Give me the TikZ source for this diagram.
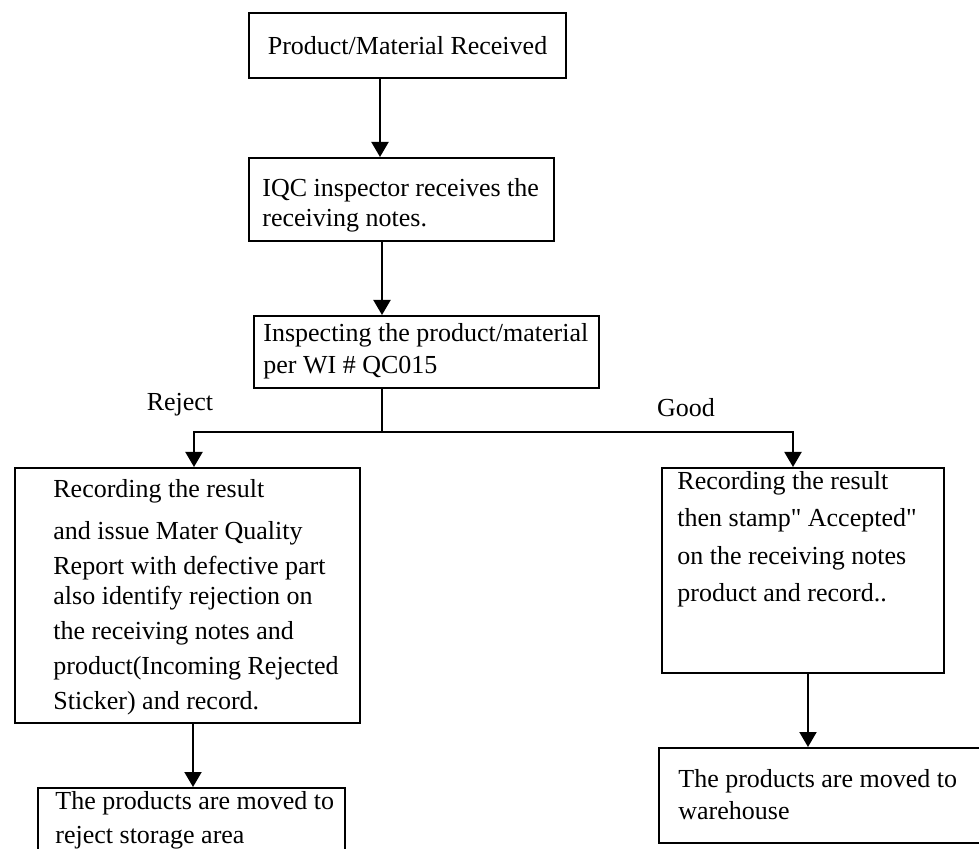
\documentclass[tikz,border=0pt]{standalone}
\usepackage{fontspec}
\setmainfont{Liberation Serif}
\usetikzlibrary{arrows.meta,positioning}

\begin{document}
\begin{tikzpicture}[x=0.5pt, y=-0.5pt,
  stage/.style={draw, line width=1pt, rectangle, anchor=north west, inner sep=0pt},
  words/.style={anchor=north west, inner sep=0pt, align=left, font=\fontsize{13}{#1}\selectfont},
  words/.default=17.5,
  tag/.style={inner sep=0pt, font=\fontsize{13}{15}\selectfont},
  flow/.style={line width=1pt, -{Triangle[width=8.5pt,length=7.5pt]}}]
\useasboundingbox (0,0) rectangle (979,849);
\clip (0,0) rectangle (979,849);

\node[stage, minimum width=158.5pt, minimum height=32.5pt, font=\fontsize{13}{15}\selectfont] (recv) at (248,12) {Product/Material Received};

\node[stage, minimum width=152.5pt, minimum height=41.5pt] (iqc) at (248,157) {};
\node[words=15] (iqctext) at (262,178) {IQC inspector receives the\\receiving notes.};

\node[stage, minimum width=172.5pt, minimum height=36pt] (insp) at (253,315) {};
\node[words=16] (insptext) at (263,323) {Inspecting the product/material\\per WI \# QC015};

\node[tag] (rejlbl) at (180,405) {Reject};
\node[tag] (goodlbl) at (686,408) {Good};

\node[stage, minimum width=172.5pt, minimum height=127.5pt] (rejrec) at (14,467) {};
\node[words=17.5] (rejtext) at (53,479) {Recording the result\\[3.5pt]and issue Mater Quality\\Report with defective part\\[-2.5pt]also identify rejection on\\the receiving notes and\\product(Incoming Rejected\\Sticker) and record.};

\node[stage, minimum width=141pt, minimum height=102.5pt] (goodrec) at (661,467) {};
\node[words=18.75] (goodtext) at (677,471) {Recording the result\\then stamp\textquotedbl{} Accepted\textquotedbl\\on the receiving notes\\product and record..};

\node[stage, minimum width=153.5pt, minimum height=40pt] (rejstore) at (37,787) {};
\node[words=17] (rejstoretext) at (55,791) {The products are moved to\\reject storage area};

\node[stage, minimum width=165pt, minimum height=47.5pt] (wh) at (658,747) {};
\node[words=16] (whtext) at (678,769) {The products are moved to\\warehouse};

\coordinate (fork) at (382,432);
\draw[flow] ([xshift=-13.75pt]recv.south) -- ([xshift=-10.75pt]iqc.north);
\draw[flow] (fork |- iqc.south) -- (fork |- insp.north);
\draw[line width=1pt] (fork |- insp.south) -- (fork);
\draw[flow] (fork) -| ([xshift=3.25pt]rejrec.north);
\draw[flow] (fork) -| ([xshift=-5pt]goodrec.north);
\draw[flow] ([xshift=2.75pt]rejrec.south) -- ([xshift=0.75pt]rejstore.north);
\draw[flow] ([xshift=2.5pt]goodrec.south) -- ([xshift=-8pt]wh.north);

\end{tikzpicture}
\end{document}
